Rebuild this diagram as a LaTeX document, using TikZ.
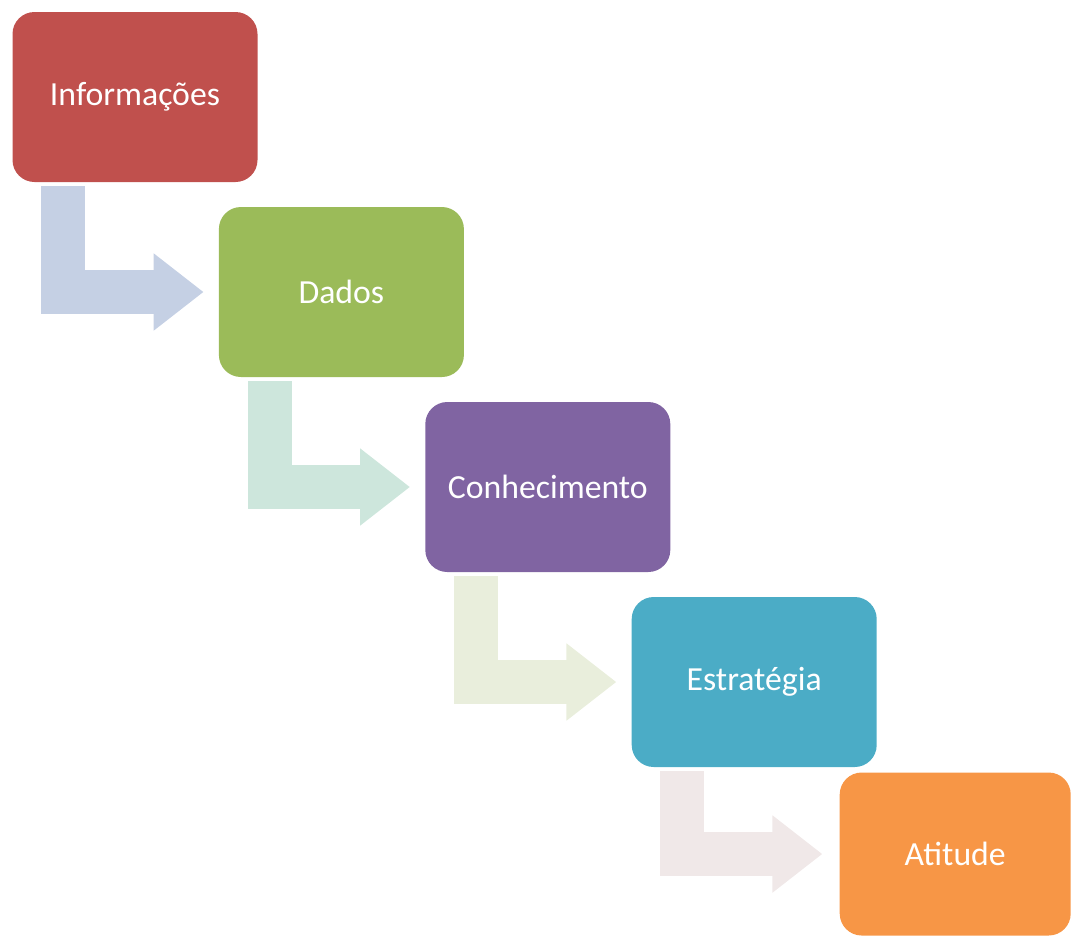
\documentclass[tikz,border=0pt]{standalone}
\usepackage{fontspec}
\setmainfont{Carlito}
\usepackage{xcolor}
\usetikzlibrary{positioning,arrows.meta}
\definecolor{infored}{HTML}{C0504D}
\definecolor{dadosgreen}{HTML}{9BBB59}
\definecolor{conhpurple}{HTML}{8064A2}
\definecolor{estrteal}{HTML}{4BACC6}
\definecolor{atitorange}{HTML}{F79646}
\definecolor{arrblue}{HTML}{C5D0E4}
\definecolor{arrmint}{HTML}{CDE6DC}
\definecolor{arrolive}{HTML}{E9EEDC}
\definecolor{arrrose}{HTML}{F0E8E8}

\begin{document}
\begin{tikzpicture}[%
    >={Triangle[length=12.5mm, width=18.5mm]}, % Wide block arrow heads
    node distance=48.75mm and 51.6mm,         % Steps down the staircase
    font=\fontsize{24}{28}\selectfont,
    ]
% -------------------------------------------------
% Box and arrow styles
\tikzset{
base/.style={on grid, rectangle, rounded corners=5.5mm, align=center, text=white,
  minimum width=61.25mm, minimum height=42.5mm, inner sep=0pt},
box/.style={base, fill=#1},
% bent block arrow from the foot of one box to the side of the next
bent/.style={->, draw=#1, line width=11mm, line join=miter},
}
\useasboundingbox (0,0) rectangle (26.8,-23.425);
% -------------------------------------------------
% Place the boxes
\node [box=infored] (info) at (3.375,-2.425) {Informações};
\node [box=dadosgreen, below right=of info] (dados) {Dados};
\node [box=conhpurple, below right=of dados] (conhec) {Conhecimento};
\node [box=estrteal, below right=of conhec] (estrat) {Estratégia};
\node [box=atitorange, minimum width=57.75mm, minimum height=40.75mm,
  below right=43mm and 50.25mm of estrat] (atitude) {Atitude};

% -------------------------------------------------
% Connecting arrows
\draw [bent=arrblue] ([shift={(12.75mm,-1mm)}] info.south west) |- ([xshift=-3.75mm] dados.west);
\draw [bent=arrmint] ([shift={(12.75mm,-1mm)}] dados.south west) |- ([xshift=-3.75mm] conhec.west);
\draw [bent=arrolive] ([shift={(12.75mm,-1mm)}] conhec.south west) |- ([xshift=-3.75mm] estrat.west);
\draw [bent=arrrose] ([shift={(12.75mm,-1mm)}] estrat.south west) |- ([xshift=-4.25mm] atitude.west);

\end{tikzpicture}
\end{document}
